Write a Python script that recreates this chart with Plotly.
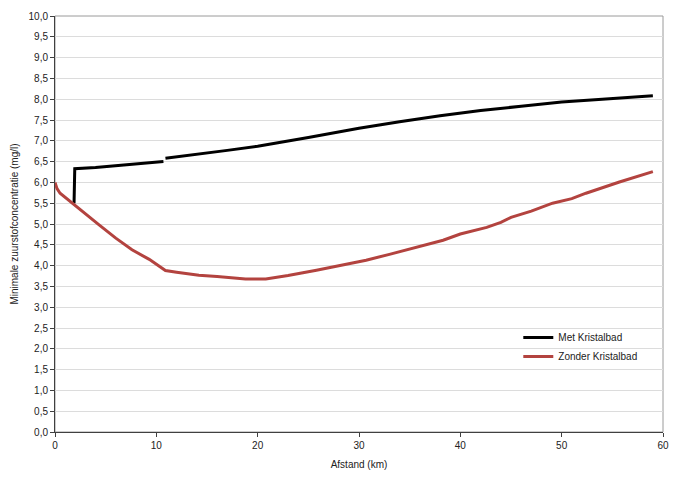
import plotly.graph_objects as go

# Met Kristalbad (two segments, separated by a gap)
met_km = [1.88, 1.95, 4.0, 6.0, 8.0, 10.0, 10.7, None,
          10.9, 13.0, 15.0, 17.0, 20.0, 22.0, 25.0, 30.0, 34.0, 38.0, 42.0, 46.0, 50.0, 54.0, 59.0]
met_val = [5.50, 6.33, 6.36, 6.40, 6.44, 6.48, 6.50, None,
           6.58, 6.64, 6.70, 6.77, 6.87, 6.96, 7.08, 7.30, 7.46, 7.60, 7.73, 7.83, 7.93, 8.00, 8.08]

# Zonder Kristalbad
zonder_km = [0.0, 0.2, 0.5, 1.0, 1.9, 3.0, 4.35, 6.0, 7.6, 9.3, 10.45, 10.7, 10.9, 12.0, 14.2, 16.0,
             18.8, 20.8, 23.0, 25.8, 28.0, 30.7, 33.0, 35.6, 38.3, 40.0, 42.6, 44.0, 45.0, 47.0,
             49.1, 51.0, 52.4, 55.7, 59.0]
zonder_val = [6.00, 5.85, 5.74, 5.64, 5.47, 5.23, 4.98, 4.66, 4.38, 4.15, 3.97, 3.93, 3.88, 3.84, 3.77, 3.74,
              3.68, 3.68, 3.76, 3.89, 4.00, 4.13, 4.27, 4.43, 4.61, 4.76, 4.92, 5.04, 5.16, 5.31,
              5.50, 5.61, 5.74, 6.01, 6.26]

x_ticks = [0, 10, 20, 30, 40, 50, 60]

FONT = "Liberation Sans, Arial, sans-serif"

fig = go.Figure()
fig.add_trace(go.Scatter(x=met_km, y=met_val, mode="lines", name="Met Kristalbad",
                         line=dict(color="#000000", width=3), connectgaps=False))
fig.add_trace(go.Scatter(x=zonder_km, y=zonder_val, mode="lines", name="Zonder Kristalbad",
                         line=dict(color="#B3433F", width=3)))

fig.update_layout(
    width=677, height=470,
    margin=dict(l=47, r=22, t=8, b=46),
    paper_bgcolor="white", plot_bgcolor="white",
    separators=",.",
    font=dict(family=FONT, size=10, color="#222222"),
    showlegend=True,
    legend=dict(x=0.762, y=0.262, xanchor="left", yanchor="top",
                bgcolor="rgba(0,0,0,0)", font=dict(size=10, color="#222222"),
                itemwidth=30, tracegroupgap=0),
    shapes=[dict(type="rect", xref="paper", yref="paper", x0=0, y0=0, x1=1, y1=1,
                 line=dict(color="#9a9a9a", width=1), layer="below")],
)
fig.update_xaxes(range=[0, 60], tickvals=x_ticks, showgrid=False, zeroline=False,
                 showline=True, linecolor="#404040", linewidth=1, automargin=False,
                 ticks="outside", ticklen=4, tickcolor="#404040",
                 title=dict(text="Afstand (km)", font=dict(size=10), standoff=10))
fig.update_yaxes(range=[0, 10], dtick=0.5, tickformat=".1f", showgrid=True,
                 gridcolor="#dcdcdc", gridwidth=1, zeroline=False, automargin=False,
                 showline=True, linecolor="#404040", linewidth=1,
                 ticks="outside", ticklen=4, tickcolor="#404040",
                 title=dict(text="Minimale zuurstofconcentratie (mg/l)", font=dict(size=10), standoff=8))

fig.write_html("out.html")
